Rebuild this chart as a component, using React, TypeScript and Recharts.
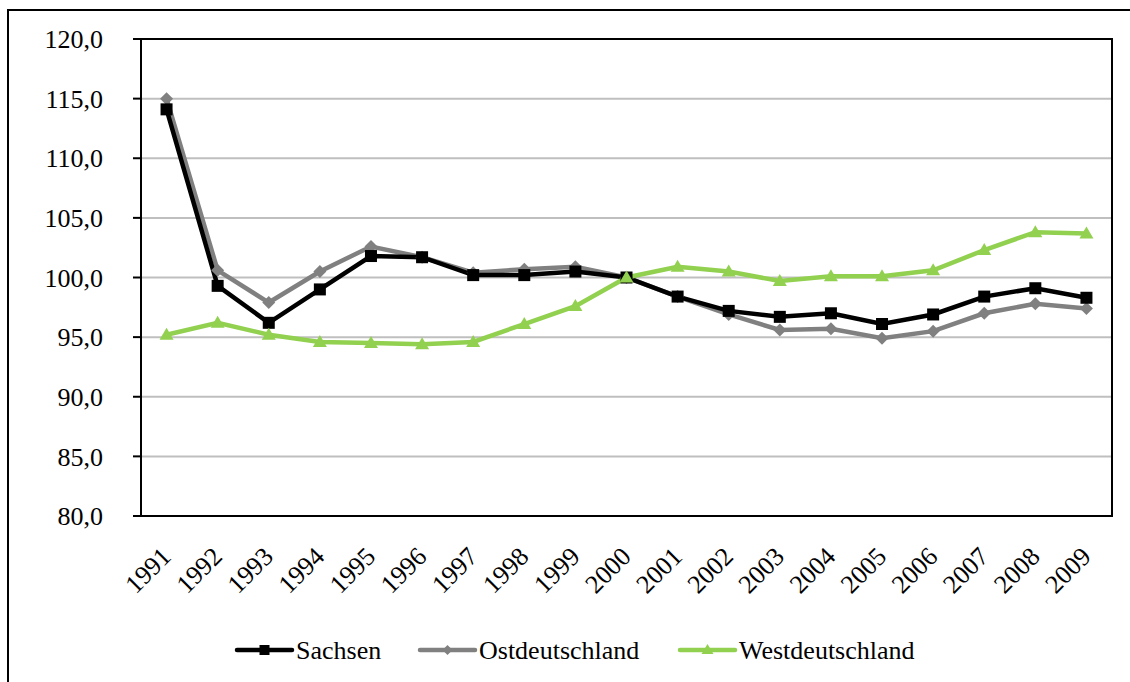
import React from 'react';
import { LineChart, Line, XAxis, YAxis, CartesianGrid, Legend, ReferenceArea } from 'recharts';

const years = [1991, 1992, 1993, 1994, 1995, 1996, 1997, 1998, 1999, 2000, 2001, 2002, 2003, 2004, 2005, 2006, 2007, 2008, 2009];
const sachsen = [114.1, 99.3, 96.2, 99.0, 101.8, 101.7, 100.2, 100.2, 100.5, 100.0, 98.4, 97.2, 96.7, 97.0, 96.1, 96.9, 98.4, 99.1, 98.3];
const ost = [115.0, 100.6, 97.9, 100.5, 102.6, 101.7, 100.4, 100.7, 100.9, 100.0, 98.4, 96.9, 95.6, 95.7, 94.9, 95.5, 97.0, 97.8, 97.4];
const west = [95.2, 96.2, 95.2, 94.6, 94.5, 94.4, 94.6, 96.1, 97.6, 100.0, 100.9, 100.5, 99.7, 100.1, 100.1, 100.6, 102.3, 103.8, 103.7];
const yTicks = [80, 85, 90, 95, 100, 105, 110, 115, 120];
const boundaryTicks = [1990.5, 1991.5, 1992.5, 1993.5, 1994.5, 1995.5, 1996.5, 1997.5, 1998.5, 1999.5, 2000.5, 2001.5, 2002.5, 2003.5, 2004.5, 2005.5, 2006.5, 2007.5, 2008.5, 2009.5];

const data = years.map((y, i) => ({ year: y, Sachsen: sachsen[i], Ostdeutschland: ost[i], Westdeutschland: west[i] }));

const FONT = '"Liberation Serif", "Times New Roman", serif';
const C_S = '#000000';
const C_O = '#808080';
const C_W = '#92D050';

const SquareDot = (props: any) => {
  const { cx, cy } = props;
  if (cx == null || cy == null) return null;
  return <rect x={cx - 6} y={cy - 6} width={12} height={12} fill={C_S} />;
};
const DiamondDot = (props: any) => {
  const { cx, cy } = props;
  if (cx == null || cy == null) return null;
  const r = 6.5;
  return <polygon points={`${cx},${cy - r} ${cx + r},${cy} ${cx},${cy + r} ${cx - r},${cy}`} fill={C_O} />;
};
const TriangleDot = (props: any) => {
  const { cx, cy } = props;
  if (cx == null || cy == null) return null;
  return <polygon points={`${cx},${cy - 7} ${cx + 7},${cy + 5} ${cx - 7},${cy + 5}`} fill={C_W} />;
};

const YearTick = (props: any) => {
  const { x, y, payload } = props;
  const ax = x + 6;
  const ay = y + 34;
  return (
    <text x={ax} y={ay} transform={`rotate(-45, ${ax}, ${ay})`} textAnchor="end" style={{ fontFamily: FONT }} fontSize={26} fill="#000">
      {payload.value}
    </text>
  );
};

const fmt = (v: number) => v.toFixed(1).replace('.', ',');

const LegendContent = () => {
  const items = [
    { name: 'Sachsen', color: C_S, x: 237, shape: 'square' },
    { name: 'Ostdeutschland', color: C_O, x: 420, shape: 'diamond' },
    { name: 'Westdeutschland', color: C_W, x: 680, shape: 'triangle' },
  ];
  return (
    <svg width={1130} height={56} style={{ display: 'block' }}>
      {items.map((it) => {
        const cy = 24;
        const mx = it.x + 27.5;
        let marker;
        if (it.shape === 'square') marker = <rect x={mx - 5} y={cy - 5} width={10} height={10} fill={it.color} />;
        else if (it.shape === 'diamond') marker = <polygon points={`${mx},${cy - 5} ${mx + 5},${cy} ${mx},${cy + 5} ${mx - 5},${cy}`} fill={it.color} />;
        else marker = <polygon points={`${mx},${cy - 6} ${mx + 6},${cy + 4} ${mx - 6},${cy + 4}`} fill={it.color} />;
        return (
          <g key={it.name}>
            <line x1={it.x} y1={cy} x2={it.x + 55} y2={cy} stroke={it.color} strokeWidth={4.5} strokeLinecap="round" />
            {marker}
            <text x={it.x + 59} y={cy + 9} style={{ fontFamily: FONT }} fontSize={26} fill="#000">{it.name}</text>
          </g>
        );
      })}
    </svg>
  );
};

export default function App() {
  return (
    <div style={{ position: 'fixed', left: 0, top: 0, width: 1130, height: 682, background: '#fff', overflow: 'hidden' }}>
      <div style={{ position: 'absolute', left: 7, top: 9, width: 1200, height: 800, borderLeft: '2px solid #000', borderTop: '2px solid #000' }} />
      <div style={{ position: 'absolute', left: 0, top: 0 }}>
        <LineChart width={1130} height={682} data={data} margin={{ top: 39, right: 18, left: 0, bottom: 0 }}>
          <CartesianGrid vertical={false} stroke="#BFBFBF" strokeWidth={2} />
          <ReferenceArea xAxisId="cat" x1={1990.5} x2={2009.5} y1={80} y2={120} fill="none" stroke="#000" strokeWidth={2} ifOverflow="visible" />
          <XAxis xAxisId="marks" type="number" dataKey="year" domain={[1990.5, 2009.5]} ticks={boundaryTicks} tick={false} tickSize={6} height={0} axisLine={{ stroke: '#000', strokeWidth: 2 }} tickLine={{ stroke: '#000', strokeWidth: 2 }} interval={0} />
          <XAxis xAxisId="cat" type="number" dataKey="year" domain={[1990.5, 2009.5]} ticks={years} tick={<YearTick />} tickLine={false} axisLine={false} height={110} interval={0} />
          <YAxis type="number" domain={[80, 120]} ticks={yTicks} width={141} tickSize={8} tickMargin={30} interval={0} tickFormatter={fmt} tick={{ fontFamily: FONT, fontSize: 26, fill: '#000' }} axisLine={{ stroke: '#000', strokeWidth: 2 }} tickLine={{ stroke: '#000', strokeWidth: 2 }} />
          <Legend verticalAlign="bottom" height={56} content={<LegendContent />} />
          <Line xAxisId="cat" type="linear" dataKey="Ostdeutschland" stroke={C_O} strokeWidth={4.5} dot={<DiamondDot />} activeDot={false} isAnimationActive={false} />
          <Line xAxisId="cat" type="linear" dataKey="Sachsen" stroke={C_S} strokeWidth={4.5} dot={<SquareDot />} activeDot={false} isAnimationActive={false} />
          <Line xAxisId="cat" type="linear" dataKey="Westdeutschland" stroke={C_W} strokeWidth={4.5} dot={<TriangleDot />} activeDot={false} isAnimationActive={false} />
        </LineChart>
      </div>
    </div>
  );
}
